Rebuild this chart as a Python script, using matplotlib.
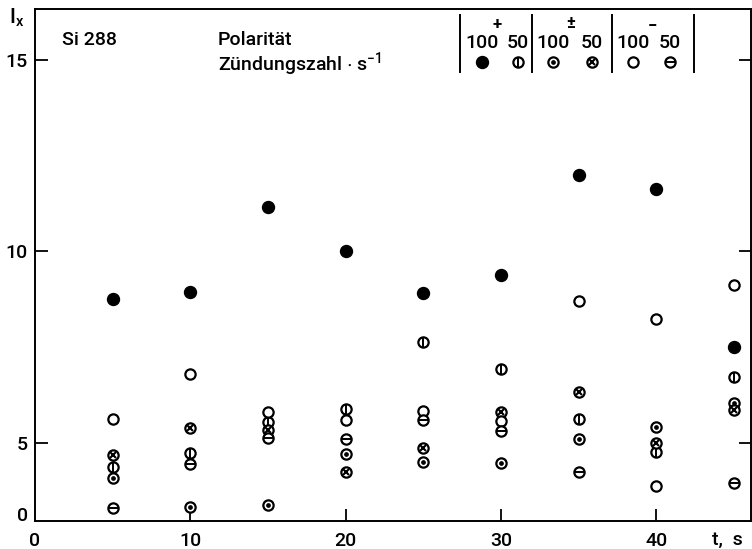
import matplotlib
matplotlib.use("Agg")
import matplotlib.pyplot as plt
import numpy as np

plt.rcParams["font.family"] = ["Roboto", "DejaVu Sans"]
plt.rcParams["font.weight"] = "medium"
plt.rcParams["mathtext.default"] = "regular"

# burn time, s
t = [5, 10, 15, 20, 25, 30, 35, 40, 45]

# I_x by polarity (+, ±, -) and ignitions per second (100, 50)
plus_100 = [8.76, 8.93, 11.17, 10.0, 8.92, 9.39, 12.0, 11.63, 7.51]
plus_50 = [3.33, 4.32, 5.56, 5.89, 7.64, 6.92, 5.63, 4.39, 6.73]
pm_100 = [2.54, 0.51, 0.63, 4.23, 3.68, 3.61, 5.10, 5.41, 6.04]
pm_50 = [4.15, 5.38, 5.34, 2.98, 4.67, 5.82, 6.32, 4.98, 5.86]
minus_100 = [5.62, 6.79, 5.80, 5.60, 5.84, 5.57, 8.71, 8.23, 9.13]
minus_50 = [0.40, 3.50, 5.14, 5.10, 5.60, 5.30, 2.98, np.nan, 2.16]
extra_open_t = [40]
extra_open = [2.0]

xticks = [0, 10, 20, 30, 40]
yticks = [0, 5, 10, 15]

# the printed scale is squeezed below 5
SQUEEZE = 0.371


def fwd(v):
    v = np.asarray(v, dtype=float)
    return np.where(v >= 5, v, 5 - (5 - v) * SQUEEZE)


def inv(u):
    u = np.asarray(u, dtype=float)
    return np.where(u >= 5, u, 5 - (5 - u) / SQUEEZE)


def draw(ax, xs, ys, kind, **kw):
    ms = 7.4
    if kind == "filled":
        ax.plot(xs, ys, "o", ms=8.6, mfc="black", mec="black", ls="none", **kw)
        return
    ax.plot(xs, ys, "o", ms=ms, mfc="white", mec="black", mew=1.6, ls="none", **kw)
    if kind == "vline":
        ax.plot(xs, ys, "|", ms=ms, mec="black", mew=1.4, ls="none", **kw)
    elif kind == "hline":
        ax.plot(xs, ys, "_", ms=ms, mec="black", mew=1.4, ls="none", **kw)
    elif kind == "dot":
        ax.plot(xs, ys, "o", ms=2.4, mfc="black", mec="black", ls="none", **kw)
    elif kind == "cross":
        ax.plot(xs, ys, "x", ms=4.2, mec="black", mew=1.5, ls="none", **kw)


fig = plt.figure(figsize=(7.52, 5.49), dpi=100)
ax = fig.add_axes([35 / 752, 1 - 521 / 549, 716 / 752, 512 / 549])
ax.set_yscale("function", functions=(fwd, inv))
ax.set_xlim(0, 46.1)
ax.set_ylim(-0.49, 16.33)

draw(ax, t, plus_100, "filled")
draw(ax, t, plus_50, "vline")
draw(ax, t, pm_100, "dot")
draw(ax, t, pm_50, "cross")
draw(ax, t, minus_100, "open")
draw(ax, t, minus_50, "hline")
draw(ax, extra_open_t, extra_open, "open")

ax.set_xticks(xticks)
ax.set_yticks(yticks)
ax.set_xticklabels([str(v) for v in xticks])
ax.set_yticklabels([str(v) for v in yticks])
ax.minorticks_off()
ax.tick_params(axis="both", direction="in", length=9, width=1.3, labelsize=14)
ax.tick_params(axis="x", pad=8)
ax.tick_params(axis="y", pad=5, right=True)
ax.xaxis.get_major_ticks()[0].tick1line.set_visible(False)
ytk = ax.yaxis.get_major_ticks()[0]
ytk.tick1line.set_visible(False)
ytk.tick2line.set_visible(False)
for s in ax.spines.values():
    s.set_linewidth(1.4)

# axis names
fig.text(9 / 752, 1 - 18 / 549, r"$\mathregular{I_x}$", fontsize=15, va="center", ha="left")
fig.text(727 / 752, 1 - 540 / 549, "t,  s", fontsize=14, va="center", ha="center")

# header block inside the frame
def ax_xy(px, py):
    return (px - 35) / 716, (521 - py) / 512


tr = ax.transAxes
ax.text(*ax_xy(62, 40), "Si 288", transform=tr, fontsize=14, va="center")
ax.text(*ax_xy(218, 40), "Polarität", transform=tr, fontsize=14, va="center")
ax.text(*ax_xy(218, 64), r"Zündungszahl $\cdot$ $\mathregular{s^{-1}}$", transform=tr,
        fontsize=14, va="center")

for px in [460, 532, 612, 694]:
    x0, y0 = ax_xy(px, 72)
    _, y1 = ax_xy(px, 15)
    ax.plot([x0, x0], [y0, y1], color="black", lw=1.4, transform=tr)

for sign, px, py in [("+", 497, 24), ("±", 571, 24), ("−", 652, 26)]:
    ax.text(*ax_xy(px, py), sign, transform=tr, fontsize=12, fontweight="bold",
            ha="center", va="center")

legend_kinds = ["filled", "vline", "dot", "cross", "open", "hline"]
legend_px = [482, 518, 553, 592, 633, 670]
for kind, px in zip(legend_kinds, legend_px):
    lbl = "100" if kind in ("filled", "dot", "open") else "50"
    ax.text(*ax_xy(px, 43), lbl, transform=tr, fontsize=14, ha="center", va="center")
    lx, ly = ax_xy(px, 62)
    draw(ax, [lx], [ly], kind, transform=tr, clip_on=False)

fig.savefig("out.png", dpi=100)
